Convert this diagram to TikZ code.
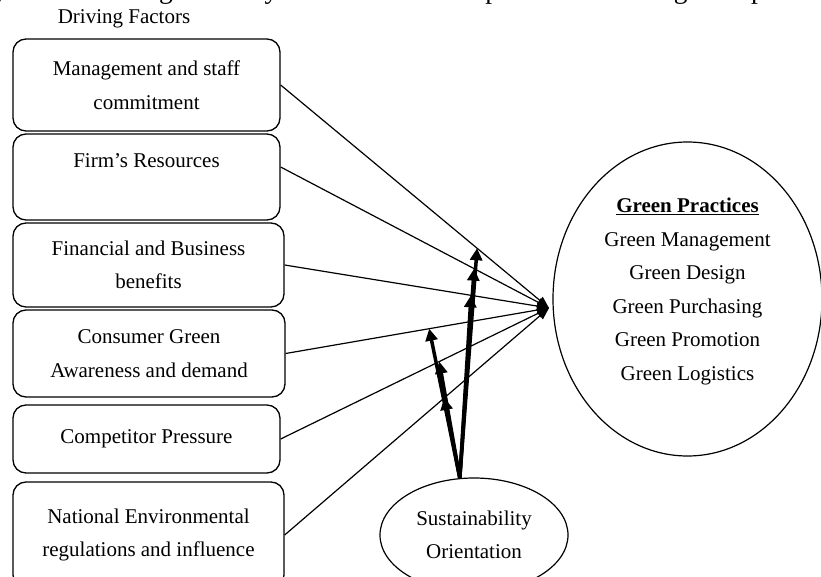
\documentclass[tikz,border=0pt]{standalone}
\usepackage{fontspec}
\setmainfont{Liberation Serif}
\usetikzlibrary{shapes.geometric,arrows.meta}

\begin{document}
\begin{tikzpicture}[x = 1pt, y = -1pt,
  font = \fontsize{21}{33.5}\selectfont,
  factor/.style = {draw, line width = 1.3pt, rounded corners = 13pt, align = center, inner sep = 0pt},
  outcome/.style = {draw, ellipse, line width = 1.2pt, align = center, inner sep = 0pt,
                    minimum width = 269pt, minimum height = 314pt},
  moderator/.style = {draw, ellipse, line width = 1.2pt, align = center, inner sep = 0pt,
                      minimum width = 188pt, minimum height = 114pt},
  link/.style = {line width = 1.2pt, -{Triangle[length = 12pt, width = 9pt]}},
  moderate/.style = {line width = 3.5pt, -{Triangle[length = 12pt, width = 12pt]}}]
\useasboundingbox (0, 0) rectangle (821, 577);
\clip (0, 0) rectangle (821, 577);

\node[anchor = base west, inner sep = 0pt, font = \fontsize{27.5}{30}\selectfont] (sentence) at (-6, -1)
  {y orientation significantly moderates the adoption of Green logistics practices};
\node (title) at (124, 19) {Driving Factors};

% driving factors
\node[factor, minimum width = 267pt, minimum height = 92pt] (b1) at (146.5, 85) {Management and staff\\commitment};
\node[factor, minimum width = 267pt, minimum height = 86pt] (b2) at (146.5, 177) {Firm’s Resources\\\mbox{}};
\node[factor, minimum width = 271pt, minimum height = 84pt] (b3) at (148.5, 265) {Financial and Business\\benefits};
\node[factor, minimum width = 272pt, minimum height = 87pt] (b4) at (149, 353.5) {Consumer Green\\Awareness and demand};
\node[factor, minimum width = 267pt, minimum height = 68pt] (b5) at (146.5, 439) {Competitor Pressure};
\node[factor, minimum width = 271pt, minimum height = 106pt] (b6) at (148.5, 535) {National Environmental\\regulations and influence};

\node[outcome] (gp) at (687.5, 299) {\textbf{\underline{Green Practices}}\\Green Management\\Green Design\\Green Purchasing\\Green Promotion\\Green Logistics\\[-14pt]\mbox{}};
\node[moderator] (so) at (474, 535) {Sustainability\\Orientation};

% links into green practices
\coordinate (hub) at (549, 308);
\draw[link] (b1.east) -- coordinate[pos = .732] (m1) (hub);
\draw[link] ([yshift = 10pt]b2.east) -- coordinate[pos = .721] (m2) (hub);
\draw[link] (b3.east) -- coordinate[pos = .705] (m3) (hub);
\draw[link] (b4.east) -- coordinate[pos = .545] (m4) (hub);
\draw[link] (b5.east) -- coordinate[pos = .591] (m5) (hub);
\draw[link] (b6.east) -- coordinate[pos = .604] (m6) (hub);

% moderating effect
\foreach \i in {1,...,6}
  \draw[moderate] (so.104) -- (m\i);
\end{tikzpicture}
\end{document}
